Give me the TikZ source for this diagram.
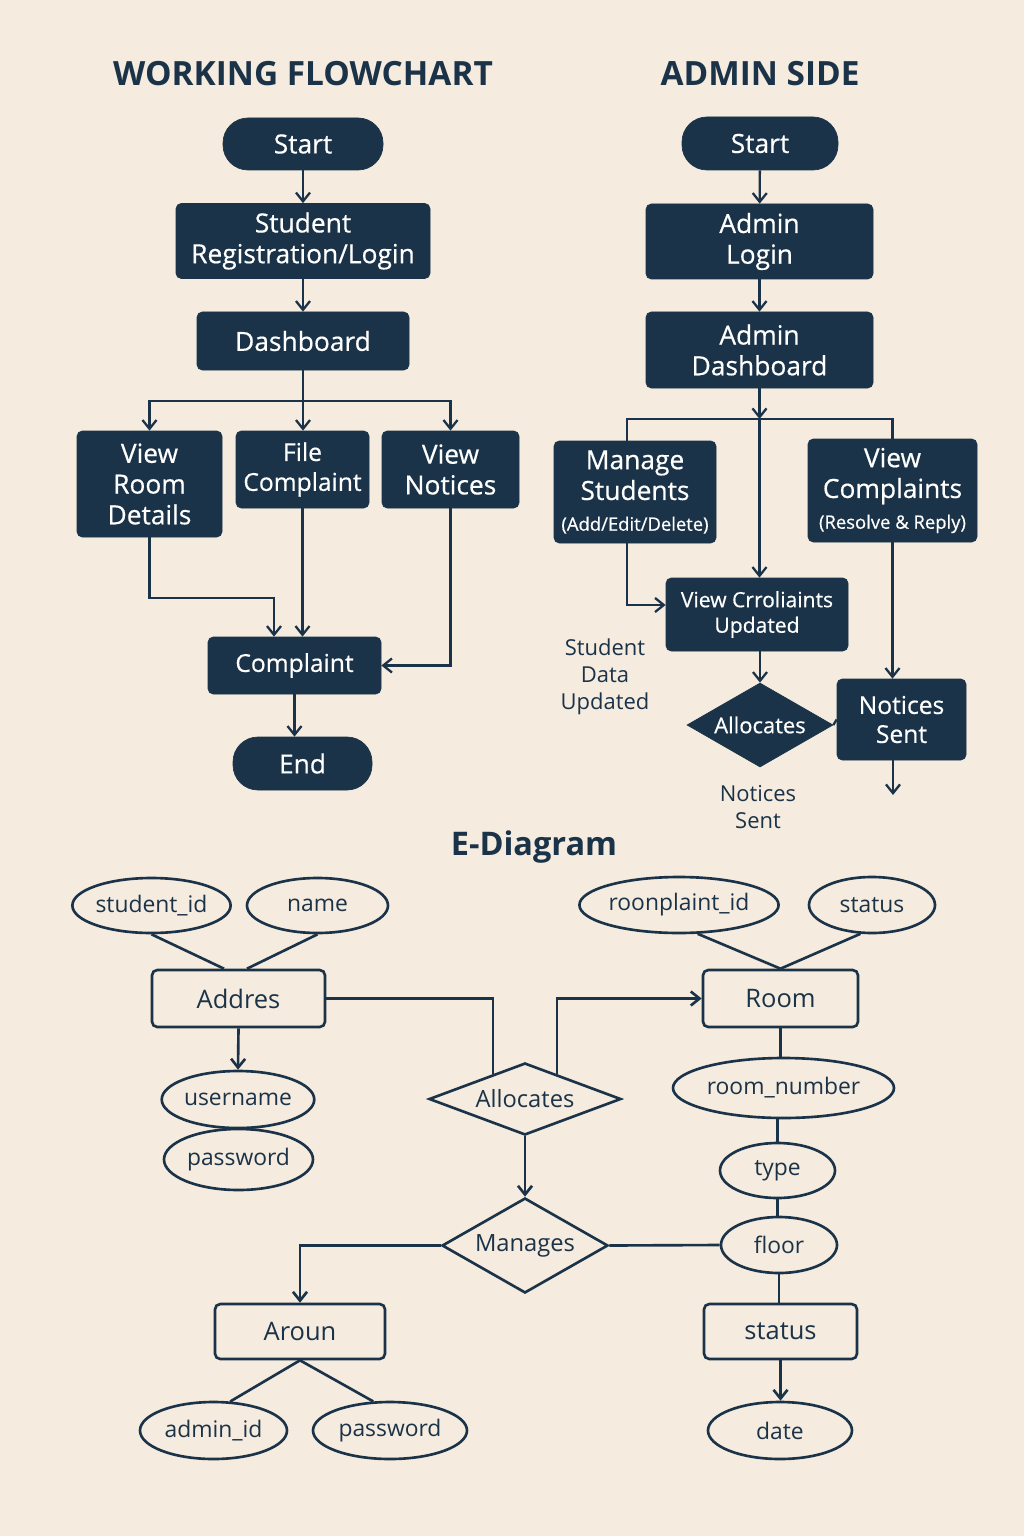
\documentclass[tikz,border=0pt]{standalone}
\usepackage{fontspec}
\setmainfont{Open Sans}
\newfontfamily\medio{Open Sans}[FakeBold=0.5]
\usetikzlibrary{arrows.meta, positioning, shapes.geometric, calc}
\definecolor{azul}{RGB}{27,51,72}
\definecolor{fundo}{RGB}{245,235,223}
\tikzset{
  caixa/.style={
    draw=azul, fill=azul, text=white, rounded corners=3pt, align=center,
    inner sep=2pt, font=\medio\fontsize{15}{17.5}\selectfont
  },
  terminal/.style={caixa, rounded corners=0.5cm},
  losango/.style={diamond, draw=azul, fill=azul, text=white, inner sep=0pt,
    aspect=1.7, font=\medio\fontsize{12.5}{15}\selectfont},
  seta/.style={-{Straight Barb[length=5pt,width=8pt]}, line width=1.3pt, azul},
  linha/.style={line width=1.3pt, azul},
  titulo/.style={font=\bfseries\fontsize{19}{22}\selectfont, text=azul},
  nota/.style={text=azul, align=center, font=\fontsize{12.5}{15.5}\selectfont},
}

\begin{document}
\begin{tikzpicture}[
    entidade/.style={
        draw=azul,
        line width=1.5pt,
        rounded corners=3pt,
        text=azul,
        font=\fontsize{14.5}{17}\selectfont
    },
    atributo/.style={
        ellipse,
        draw=azul,
        line width=1.5pt,
        inner sep=0pt,
        text=azul,
        font=\fontsize{13}{15}\selectfont
    },
    relacao/.style={
        diamond,
        draw=azul,
        line width=1.5pt,
        inner sep=0pt,
        aspect=2,
        text=azul,
        font=\fontsize{13.5}{16}\selectfont
    },
    ligacao/.style={
        line width=1.5pt,
        azul
    },
    setaer/.style={
        ligacao,
        -{Straight Barb[length=5pt,width=8pt]}
    }
]

\fill[fundo] (0,0) rectangle (20.48,-30.72);

\node[titulo] (titaluno) at (6.06,-1.48) {WORKING FLOWCHART};
\node[titulo] (titadmin) at (15.2,-1.48) {ADMIN SIDE};

\node[terminal, minimum width=3.2cm, minimum height=1.04cm] (inicio) at (6.06,-2.88) {Start};
\node[caixa, minimum width=5.08cm, minimum height=1.5cm] (registro) at (6.06,-4.82)
{Student\\Registration/Login};
\node[caixa, minimum width=4.24cm, minimum height=1.16cm] (painel) at (6.06,-6.82) {Dashboard};
\node[caixa, minimum width=2.9cm, minimum height=2.12cm] (quarto) at (2.99,-9.68)
{View\\Room\\Details};
\node[caixa, minimum width=2.66cm, minimum height=1.54cm, font=\medio\fontsize{14}{17}\selectfont] (reclamar) at (6.05,-9.39)
{File\\Complaint};
\node[caixa, minimum width=2.74cm, minimum height=1.54cm] (avisos) at (9.01,-9.39)
{View\\Notices};
\node[caixa, minimum width=3.46cm, minimum height=1.14cm, font=\medio\fontsize{14}{17}\selectfont] (reclamacao) at (5.89,-13.31) {Complaint};
\node[terminal, minimum width=2.78cm, minimum height=1.06cm] (fim) at (6.05,-15.27) {End};
\coordinate (ramo) at (6.06,-8.02);

\draw[seta] (inicio) -- (registro);
\draw[seta] (registro) -- (painel);
\draw[linha] (painel) -- (ramo);
\draw[seta] (ramo) -| (quarto.north);
\draw[seta] (ramo) -- (ramo |- reclamar.north);
\draw[seta] (ramo) -| (avisos.north);
\draw[seta] (quarto.south) -- ++(0,-1.22) -| ([xshift=-0.41cm]reclamacao.north);
\draw[seta] (reclamar.south) -- (reclamar.south |- reclamacao.north);
\draw[seta] (avisos.south) |- (reclamacao.east);
\draw[seta] (reclamacao.south) -- (reclamacao.south |- fim.north);

\node[terminal, minimum width=3.12cm, minimum height=1.06cm] (inicioadm) at (15.2,-2.87) {Start};
\node[caixa, minimum width=4.54cm, minimum height=1.5cm] (loginadm) at (15.19,-4.83)
{Admin\\Login};
\node[caixa, minimum width=4.54cm, minimum height=1.52cm] (paineladm) at (15.19,-7.0)
{Admin\\Dashboard};
\node[caixa, minimum width=3.24cm, minimum height=2.04cm] (gerir) at (12.7,-9.84)
{Manage\\Students\\{\fontsize{10.5}{13}\selectfont (Add/Edit/Delete)}};
\node[caixa, minimum width=3.38cm, minimum height=2.06cm] (verrecl) at (17.85,-9.81)
{View\\Complaints\\{\fontsize{10.5}{13}\selectfont (Resolve \& Reply)}};
\node[caixa, minimum width=3.64cm, minimum height=1.46cm, font=\medio\fontsize{12}{14.5}\selectfont] (atualiza) at (15.14,-12.29)
{View Crroliaints\\Updated};
\node[caixa, minimum width=2.58cm, minimum height=1.62cm, font=\medio\fontsize{14}{16.5}\selectfont] (avisosenv) at (18.03,-14.39)
{Notices\\Sent};
\node[losango, minimum width=2.92cm, minimum height=1.68cm] (aloca) at (15.2,-14.5) {Allocates};
\node[nota] (dadosest) at (12.1,-13.54) {Student\\Data\\Updated};
\node[nota] (avisonota) at (15.16,-16.14) {Notices\\Sent};
\coordinate (ramoadm) at (15.19,-8.38);
\coordinate (saida) at (17.86,-15.9);

\draw[seta] (inicioadm) -- (loginadm);
\draw[seta] (loginadm) -- (paineladm);
\draw[seta] (paineladm.south) -- (ramoadm);
\draw[linha] ([xshift=-0.16cm]gerir.north) |- (ramoadm) -| (verrecl.north);
\draw[seta] (ramoadm) -- (ramoadm |- atualiza.north);
\draw[seta] ([xshift=-0.16cm]gerir.south) |- ([yshift=0.19cm]atualiza.west);
\draw[seta] (verrecl.south) -- (verrecl.south |- avisosenv.north);
\draw[seta] (aloca.north |- atualiza.south) -- (aloca.north);
\draw[linha] (aloca.east) -- (avisosenv.west);
\draw[seta] (saida |- avisosenv.south) -- (saida);

\node[titulo, font=\bfseries\fontsize{18.5}{22}\selectfont] (titer) at (10.68,-16.94) {E-Diagram};

\node[atributo, minimum width=3.14cm, minimum height=1.1cm] (estid) at (3.03,-18.11) {student\_id};
\node[atributo, minimum width=2.82cm, minimum height=1.1cm] (nome) at (6.35,-18.11) {name};
\node[entidade, minimum width=3.46cm, minimum height=1.14cm] (endereco) at (4.77,-19.97) {Addres};
\node[atributo, minimum width=3.0cm, minimum height=1.14cm] (usuario) at (4.76,-21.99) {username};
\node[atributo, minimum width=2.98cm, minimum height=1.22cm] (senha) at (4.77,-23.19) {password};

\node[atributo, minimum width=3.64cm, minimum height=1.12cm] (reclid) at (13.58,-18.1) {roonplaint\_id};
\node[atributo, minimum width=2.52cm, minimum height=1.12cm] (estado) at (17.44,-18.1) {status};
\node[entidade, minimum width=3.1cm, minimum height=1.14cm] (quartoer) at (15.61,-19.97) {Room};
\node[atributo, minimum width=4.42cm, minimum height=1.2cm] (numero) at (15.67,-21.76) {room\_number};
\node[atributo, minimum width=2.3cm, minimum height=1.1cm] (tipo) at (15.55,-23.41) {type};
\node[atributo, minimum width=2.32cm, minimum height=1.12cm] (andar) at (15.58,-24.9) {floor};
\node[entidade, minimum width=3.06cm, minimum height=1.1cm] (estadoer) at (15.61,-26.63) {status};
\node[atributo, minimum width=2.88cm, minimum height=1.14cm] (data) at (15.6,-28.61) {date};

\node[relacao, minimum width=3.84cm, minimum height=1.44cm] (alocaer) at (10.5,-21.98) {Allocates};
\node[relacao, minimum width=3.32cm, minimum height=1.9cm] (gerencia) at (10.5,-24.91) {Manages};

\node[entidade, minimum width=3.4cm, minimum height=1.1cm] (admin) at (6.0,-26.63) {Aroun};
\node[atributo, minimum width=2.94cm, minimum height=1.14cm] (admid) at (4.27,-28.61) {admin\_id};
\node[atributo, minimum width=3.08cm, minimum height=1.14cm] (senhaadm) at (7.8,-28.61) {password};

\draw[ligacao] (estid.south) -- ([xshift=-0.29cm]endereco.north);
\draw[ligacao] (nome.south) -- ([xshift=0.17cm]endereco.north);
\draw[setaer] (endereco.south) -- (usuario.north);
\draw[ligacao] (endereco.east) -| ($(alocaer.west)!0.67!(alocaer.north)$);
\draw[setaer] ($(alocaer.east)!0.67!(alocaer.north)$) |- (quartoer.west);
\draw[ligacao] (reclid.-57) -- (quartoer.north);
\draw[ligacao] (estado.-112) -- (quartoer.north);
\draw[ligacao] (quartoer.south) -- (quartoer.south |- numero.north);
\draw[ligacao] (tipo.north |- numero.south) -- (tipo.north);
\draw[ligacao] (tipo.south) -- (tipo.south |- andar.north);
\draw[setaer] (alocaer.south) -- (gerencia.north);
\draw[setaer] (gerencia.west) -| (admin.north);
\draw[ligacao] (gerencia.east) -- (andar.west);
\draw[ligacao] (andar.south) -- (andar.south |- estadoer.north);
\draw[setaer] (estadoer.south) -- (estadoer.south |- data.north);
\draw[ligacao] (admin.south) -- (admid.60);
\draw[ligacao] (admin.south) -- (senhaadm.120);

\end{tikzpicture}
\end{document}
